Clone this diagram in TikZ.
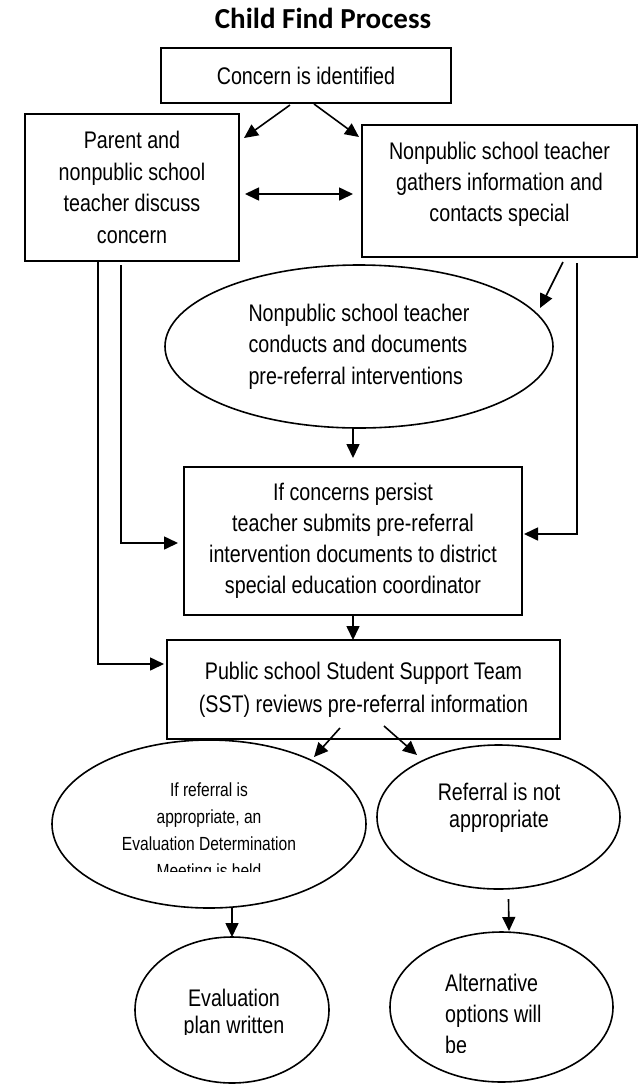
\documentclass[tikz,border=0pt]{standalone}
\usepackage{fontspec}
\setmainfont{Liberation Sans}[FakeStretch=0.82]
\newfontfamily\titlefont{Carlito}
\usetikzlibrary{shapes,arrows.meta,positioning}
\tikzset{flowtip/.tip={Triangle[length=14pt,width=13pt]}}
\tikzset{
  box/.style={draw, rectangle, line width=1.6pt, inner sep=0pt, outer sep=0pt, align=center, font=\fontsize{24}{31.5}\selectfont},
  oval/.style={draw, ellipse, line width=1.6pt, inner sep=0pt, outer sep=0pt, font=\fontsize{24}{31.5}\selectfont},
  words/.style={inner sep=0pt, align=center, font=\fontsize{24}{31}\selectfont},
  flow/.style={line width=1.6pt, -flowtip},
  twoway/.style={line width=1.6pt, flowtip-flowtip}
}

\begin{document}
\begin{tikzpicture}[x=1pt,y=1pt]
\useasboundingbox (0,0) rectangle (639,-1085);
\node [inner sep=0pt, font=\titlefont\bfseries\fontsize{29}{34}\selectfont] (title) at (323,-18.5) {Child Find Process};

\node [box, minimum width=290, minimum height=55] (concern) at (306,-75.5) {Concern is identified};
\node [box, minimum width=214, minimum height=147] (parent) at (132,-187.5) {Parent and\\nonpublic school\\teacher discuss\\concern};
\node [box, minimum width=275, minimum height=132] (gather) at (499.5,-191) {};
\node [words] (gathertxt) at (499.5,-184) {Nonpublic school teacher\\gathers information and\\contacts special};
\node [oval, minimum width=388, minimum height=163, align=left] (conduct) at (359,-346.5) {Nonpublic school teacher\\conducts and documents\\pre-referral interventions};
\node [box, minimum width=338, minimum height=148, font=\fontsize{24}{31}\selectfont] (persist) at (353,-541) {If concerns persist\\teacher submits pre-referral\\intervention documents to district\\special education coordinator};
\node [box, minimum width=393, minimum height=99, font=\fontsize{24}{33}\selectfont] (sst) at (363.5,-689.5) {Public school Student Support Team\\(SST) reviews pre-referral information};

\node [oval, minimum width=314, minimum height=168] (yes) at (209,-824) {};
\node [oval, minimum width=243, minimum height=144] (no) at (498.5,-817) {};
\node [oval, minimum width=194, minimum height=146] (eval) at (232,-1010) {};
\node [oval, minimum width=223, minimum height=150] (alt) at (501.5,-1007) {};

\node [words, font=\fontsize{24}{27}\selectfont] (notxt) at (499,-808) {Referral is not\\appropriate};
% text boxes cut off at the bottom
\begin{scope}
\clip (52,-740) rectangle (366,-871);
\node [words, font=\fontsize{19}{27}\selectfont] (yestxt) at (209,-832) {If referral is\\appropriate, an\\Evaluation Determination\\Meeting is held};
\end{scope}
\begin{scope}
\clip (135,-937) rectangle (329,-1034);
\node [words, font=\fontsize{24}{27}\selectfont] (evaltxt) at (234,-1014) {Evaluation\\plan written};
\end{scope}
\begin{scope}
\clip (390,-932) rectangle (613,-1052);
\node [words, align=left, anchor=west] (alttxt) at (445,-1014) {Alternative\\options will\\be};
\end{scope}

\draw [flow] ([xshift=-16,yshift=-2]concern.south) -- ([xshift=5,yshift=-24]parent.north east);
\draw [flow] ([xshift=8,yshift=-1]concern.south) -- ([xshift=-3,yshift=-12]gather.north west);
\draw [twoway] ([xshift=6,yshift=-6.5]parent.east) -- ([xshift=-9,yshift=-3]gather.west);
\draw [flow] ([xshift=63.5,yshift=-5]gather.south) -- ([xshift=-13,yshift=38.5]conduct.east);
\draw [flow] ([xshift=-6]conduct.south) -- ([yshift=9]persist.north);
\draw [flow] ([xshift=77.5,yshift=-6]gather.south) |- ([xshift=2,yshift=7]persist.east);
\draw [flow] ([xshift=-11,yshift=-4]parent.south) |- ([xshift=-6,yshift=-2]persist.west);
\draw [flow] ([xshift=-34,yshift=-1]parent.south) |- ([xshift=-3,yshift=25.5]sst.west);
\draw [flow] (persist.south) -- (persist.south |- sst.north);
\draw [flow] ([xshift=-23.5,yshift=11]sst.south) -- ([xshift=105,yshift=-17]yes.north);
\draw [flow] ([xshift=20.5,yshift=13]sst.south) -- ([xshift=-81.5,yshift=-10]no.north);
\draw [flow] (eval.north |- yes.south) -- (eval.north);
\draw [flow] ([xshift=10,yshift=-10]no.south) -- ([xshift=7.5,yshift=1]alt.north);
\end{tikzpicture}
\end{document}
